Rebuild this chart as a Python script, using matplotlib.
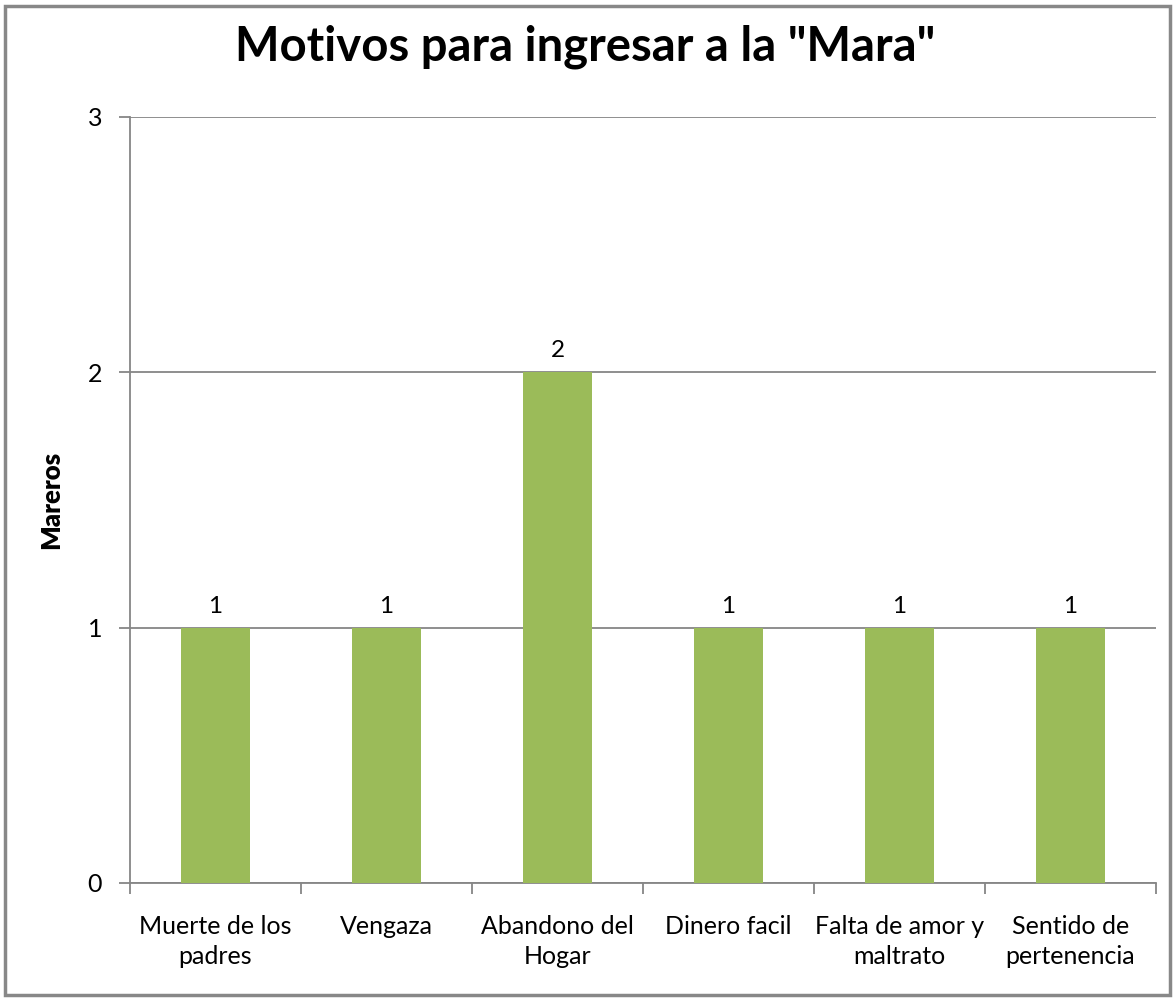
import matplotlib
matplotlib.use("Agg")
import matplotlib.pyplot as plt
from matplotlib.patches import Rectangle

categories = ["Muerte de los\npadres", "Vengaza", "Abandono del\nHogar", "Dinero facil",
              "Falta de amor y\nmaltrato", "Sentido de\npertenencia"]
values = [1, 1, 2, 1, 1, 1]
yticks = [0, 1, 2, 3]

plt.rcParams['font.family'] = ['Lato', 'DejaVu Sans']

fig = plt.figure(figsize=(11.75, 10), dpi=100)
ax = fig.add_axes([130/1175, 117/1000, 1026/1175, 766/1000])

x = list(range(len(categories)))
ax.bar(x, values, width=0.4, color="#9BBB59", zorder=3)
for xi, v in zip(x, values):
    ax.annotate(str(v), (xi, v), xytext=(0, 8), textcoords="offset points",
                ha="center", va="bottom", fontsize=17.5, color="black")

ax.set_xlim(-0.5, len(categories) - 0.5)
ax.set_ylim(0, 3)
ax.set_yticks(yticks)
ax.set_yticklabels([str(t) for t in yticks], fontsize=18)
ax.yaxis.grid(True, color="#868686", linewidth=1.3, zorder=0)
ax.set_xticks([i - 0.5 for i in range(len(categories) + 1)], minor=False)
ax.set_xticklabels([])
ax.set_xticks(x, minor=True)
ax.set_xticklabels(categories, minor=True, fontsize=18, linespacing=1.35)
ax.tick_params(axis="x", which="minor", length=0, pad=23)
ax.tick_params(axis="x", which="major", length=8, color="#868686", width=1.3)
ax.tick_params(axis="y", length=8, color="#868686", width=1.3, pad=12)
for s in ["top", "right"]:
    ax.spines[s].set_visible(False)
for s in ["left", "bottom"]:
    ax.spines[s].set_color("#868686")
    ax.spines[s].set_linewidth(1.3)

ax.set_ylabel("Mareros", fontsize=18.5, fontweight="heavy", labelpad=18)
fig.text(585/1175, 1 - 47/1000, 'Motivos para ingresar a la "Mara"', ha="center", va="center",
         fontsize=34, fontweight="bold")

fig.patches.append(Rectangle((5/1175, 5/1000), 1165/1175, 989/1000, transform=fig.transFigure,
                             fill=False, edgecolor="#888888", linewidth=2.5))

fig.savefig("out.png", dpi=100)
